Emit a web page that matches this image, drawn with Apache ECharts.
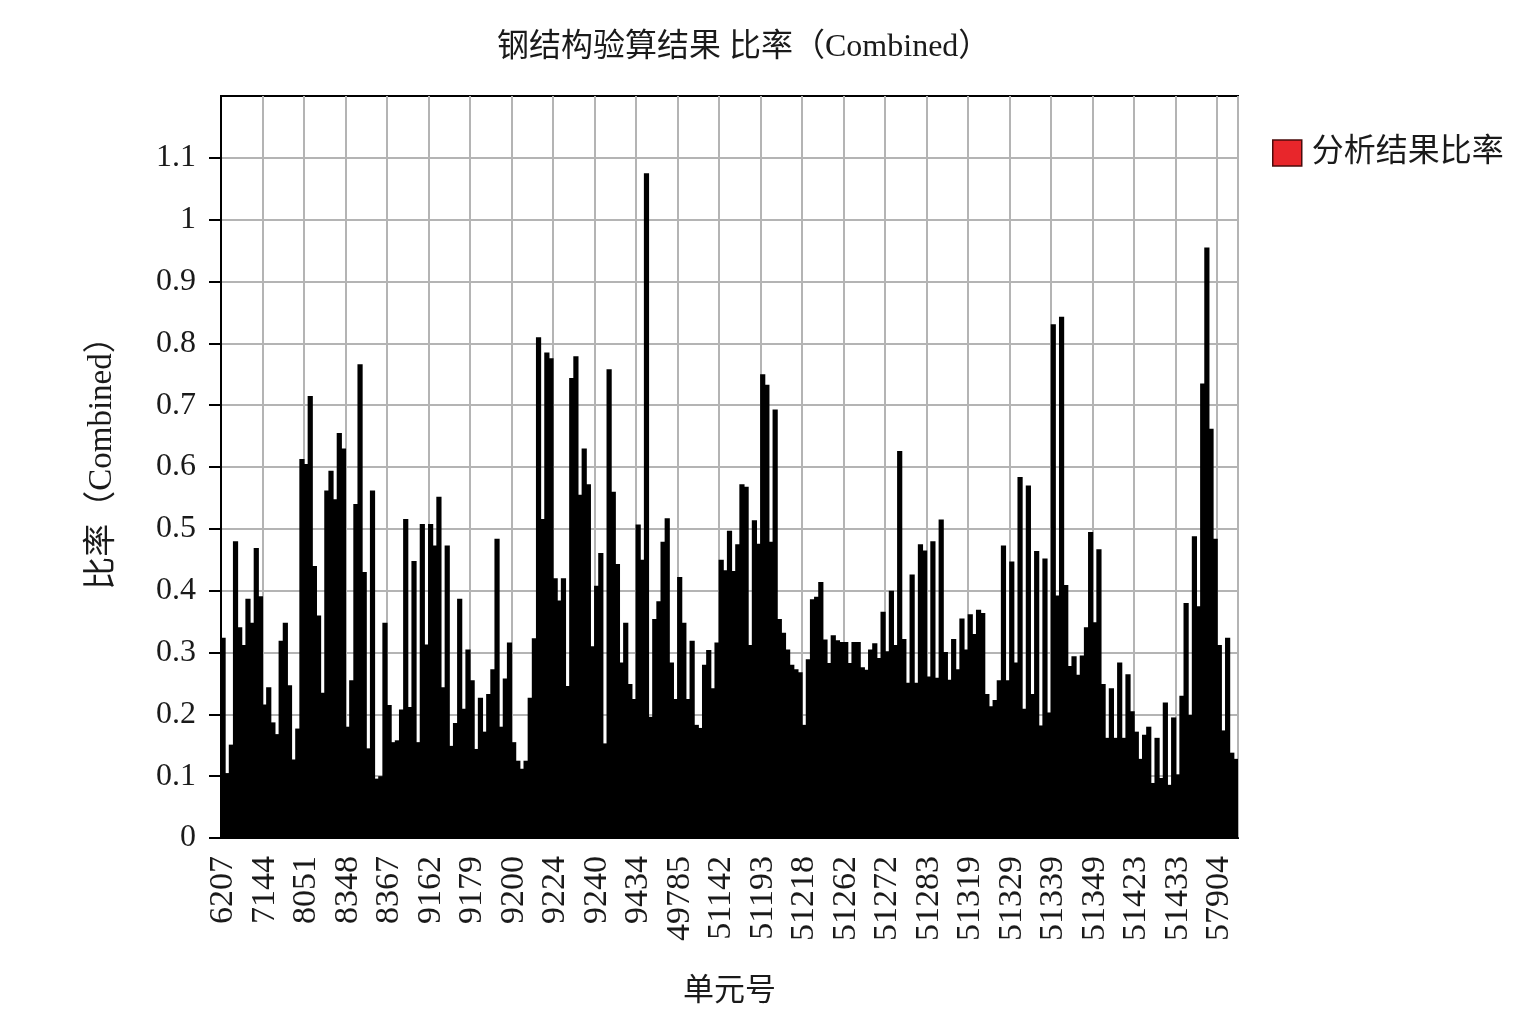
<!DOCTYPE html>
<html>
<head>
<meta charset="utf-8">
<title>钢结构验算结果 比率（Combined）</title>
<script src="https://cdn.jsdelivr.net/npm/echarts@6/dist/echarts.min.js"></script>
<style>
  html, body { margin: 0; padding: 0; background: #fff; }
  #main { width: 1520px; height: 1017px; }
</style>
</head>
<body>
<div id="main"></div>
<script>
// 每10个单元标一个单元号
const tickLabels = ['6207', '7144', '8051', '8348', '8367', '9162', '9179', '9200', '9224', '9240',
  '9434', '49785', '51142', '51193', '51218', '51262', '51272', '51283', '51319', '51329',
  '51339', '51349', '51423', '51433', '57904'];

// 纵轴刻度 (顶部 1.2 不标)
const yTicks = [0, 0.1, 0.2, 0.3, 0.4, 0.5, 0.6, 0.7, 0.8, 0.9, 1, 1.1];

// 各单元的组合比率 (从左到右)
const ratios = [
  0.324, 0.105, 0.151, 0.48, 0.341, 0.312, 0.387, 0.348, 0.469, 0.391,
  0.216, 0.244, 0.187, 0.168, 0.319, 0.348, 0.247, 0.127, 0.177, 0.613,
  0.605, 0.715, 0.44, 0.36, 0.235, 0.562, 0.594, 0.548, 0.655, 0.63,
  0.18, 0.255, 0.54, 0.766, 0.43, 0.145, 0.562, 0.096, 0.1, 0.348,
  0.215, 0.155, 0.158, 0.208, 0.516, 0.212, 0.448, 0.155, 0.508, 0.313,
  0.508, 0.473, 0.552, 0.244, 0.473, 0.149, 0.186, 0.387, 0.209, 0.305,
  0.255, 0.144, 0.227, 0.172, 0.233, 0.273, 0.484, 0.18, 0.258, 0.316,
  0.155, 0.125, 0.112, 0.125, 0.227, 0.323, 0.81, 0.516, 0.785, 0.776,
  0.42, 0.384, 0.42, 0.246, 0.744, 0.779, 0.555, 0.63, 0.572, 0.31,
  0.408, 0.461, 0.153, 0.758, 0.56, 0.443, 0.284, 0.348, 0.249, 0.225,
  0.507, 0.45, 1.075, 0.196, 0.354, 0.383, 0.479, 0.517, 0.284, 0.225,
  0.422, 0.348, 0.225, 0.319, 0.183, 0.178, 0.28, 0.304, 0.242, 0.316,
  0.45, 0.433, 0.497, 0.432, 0.475, 0.572, 0.568, 0.312, 0.514, 0.476,
  0.75, 0.733, 0.479, 0.693, 0.354, 0.332, 0.305, 0.28, 0.273, 0.268,
  0.183, 0.289, 0.386, 0.39, 0.414, 0.321, 0.283, 0.328, 0.32, 0.317,
  0.317, 0.283, 0.317, 0.317, 0.276, 0.272, 0.305, 0.315, 0.291, 0.366,
  0.302, 0.4, 0.312, 0.626, 0.322, 0.251, 0.426, 0.251, 0.475, 0.465,
  0.261, 0.48, 0.259, 0.515, 0.301, 0.256, 0.322, 0.273, 0.355, 0.305,
  0.362, 0.33, 0.369, 0.364, 0.233, 0.213, 0.223, 0.255, 0.473, 0.255,
  0.447, 0.284, 0.584, 0.209, 0.57, 0.233, 0.464, 0.182, 0.452, 0.203,
  0.831, 0.392, 0.843, 0.409, 0.278, 0.294, 0.264, 0.295, 0.341, 0.495,
  0.349, 0.467, 0.249, 0.162, 0.242, 0.162, 0.284, 0.162, 0.265, 0.205,
  0.172, 0.128, 0.167, 0.18, 0.089, 0.162, 0.097, 0.219, 0.086, 0.195,
  0.103, 0.23, 0.38, 0.199, 0.488, 0.375, 0.735, 0.955, 0.662, 0.484,
  0.312, 0.174, 0.324, 0.138, 0.128
];

// 类目只用序号, 轴上每10个显示一个单元号
const categories = ratios.map((v, i) => String(i));

const seriesName = '分析结果比率';
const fontFamily = "'Liberation Serif', 'Noto Sans CJK SC', serif";
const textColor = '#1a1a1a';
const gridColor = '#b4b4b4';

const chart = echarts.init(document.getElementById('main'));

const option = {
  animation: false,
  backgroundColor: '#fff',
  title: {
    text: '钢结构验算结果 比率（Combined）',
    left: 492,
    top: 27,
    textStyle: { fontFamily: fontFamily, fontSize: 32, fontWeight: 'normal', color: textColor }
  },
  legend: {
    left: 1267,
    top: 132,
    icon: 'rect',
    itemWidth: 29,
    itemHeight: 26,
    textStyle: { fontFamily: fontFamily, fontSize: 32, color: textColor, padding: [0, 0, 0, 5] },
    data: [{
      name: seriesName,
      itemStyle: { color: '#e8262b', borderColor: '#4a0c0c', borderWidth: 1.5 }
    }]
  },
  grid: {
    left: 221,
    right: 282,
    top: 96,
    bottom: 179,
    show: true,
    borderColor: '#000',
    borderWidth: 2
  },
  xAxis: {
    type: 'category',
    data: categories,
    name: '单元号',
    nameLocation: 'middle',
    nameGap: 138,
    nameTextStyle: { fontFamily: fontFamily, fontSize: 31, color: textColor },
    axisLine: { lineStyle: { color: '#000', width: 2 } },
    axisTick: { interval: 9, length: 14, lineStyle: { color: '#000', width: 2 } },
    axisLabel: {
      interval: 9,
      rotate: 90,
      margin: 18,
      fontFamily: fontFamily,
      fontSize: 34,
      color: textColor,
      padding: [0, 0, 4, 0],
      formatter: function (value, index) {
        return tickLabels[index / 10] || '';
      }
    },
    splitLine: { show: true, interval: 9, lineStyle: { color: gridColor, width: 2 } }
  },
  yAxis: {
    type: 'value',
    min: 0,
    max: 1.2,
    interval: 0.1,
    name: '比率（Combined）',
    nameLocation: 'middle',
    nameGap: 102,
    nameTextStyle: { fontFamily: fontFamily, fontSize: 33, color: textColor, padding: [0, 0, 0, 24] },
    axisLine: { show: true, lineStyle: { color: '#000', width: 2 } },
    axisTick: { show: true, length: 12, customValues: yTicks, lineStyle: { color: '#000', width: 2 } },
    axisLabel: {
      margin: 25,
      fontFamily: fontFamily,
      fontSize: 32,
      color: textColor,
      customValues: yTicks,
      formatter: function (v) {
        return String(+v.toFixed(1));
      }
    },
    splitLine: { lineStyle: { color: gridColor, width: 2 } }
  },
  series: [{
    name: seriesName,
    type: 'bar',
    data: ratios,
    // 略宽于类目带宽, 相邻柱子之间不留缝
    barWidth: 5.2,
    itemStyle: { color: '#000' }
  }]
};

chart.setOption(option);
</script>
</body>
</html>
